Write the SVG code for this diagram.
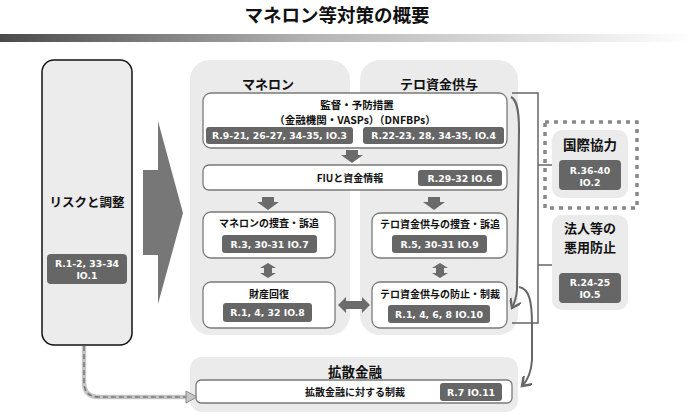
<svg xmlns="http://www.w3.org/2000/svg" width="696" height="415" viewBox="0 0 696 415">
<defs>
<linearGradient id="bar" x1="0" y1="0" x2="1" y2="0">
<stop offset="0" stop-color="#4a4a4a"/>
<stop offset="0.45" stop-color="#b5b5b5"/>
<stop offset="1" stop-color="#ffffff"/>
</linearGradient>
<marker id="open" markerUnits="userSpaceOnUse" markerWidth="12" markerHeight="12" refX="8" refY="5" orient="auto" viewBox="0 0 10 10">
<path d="M1,0 L8,5 L1,10" fill="none" stroke="#666" stroke-width="2"/>
</marker>
</defs>
<style>
.jp{font-family:"Noto Sans CJK JP","Noto Sans",sans-serif;font-weight:bold;fill:#111;text-anchor:middle}
.r{font-family:"DejaVu Sans","Noto Sans",sans-serif;font-weight:bold;fill:#fff;text-anchor:middle;font-size:9.3px}
.panel{fill:#ebebeb}
.box{fill:#fff;stroke:#7a7a7a;stroke-width:1.3}
.rb{fill:#666}
.arr{fill:#6b6b6b}
.ln{fill:none;stroke:#666;stroke-width:2}
</style>
<g id="title">
<text class="jp" x="337" y="22" font-size="18.5">マネロン等対策の概要</text>
<rect x="0" y="34" width="696" height="8" fill="url(#bar)"/>
</g>
<g id="risk">
<rect x="42" y="60" width="90" height="285" rx="12" fill="#ececec" stroke="#111" stroke-width="1.5"/>
<text class="jp" x="87" y="207" font-size="12.5">リスクと調整</text>
<rect class="rb" x="47" y="254" width="80" height="30" rx="4"/>
<text class="r" x="87" y="267">R.1-2, 33-34</text>
<text class="r" x="87" y="279">IO.1</text>
</g>
<g id="big-arrow">
<polygon points="143,170 158,170 158,121 183,213 158,304 158,255 143,255" fill="#777"/>
</g>
<g id="panel-ml">
<rect class="panel" x="190" y="60" width="160" height="275" rx="20"/>
<text class="jp" x="268" y="89" font-size="13">マネロン</text>
</g>
<g id="panel-tf">
<rect class="panel" x="360" y="60" width="158" height="275" rx="20"/>
<text class="jp" x="439" y="89" font-size="13">テロ資金供与</text>
</g>
<g id="supervision">
<rect class="box" x="203" y="93" width="304" height="55" rx="8"/>
<text class="jp" x="357" y="109" font-size="10.5">監督・予防措置</text>
<text class="jp" x="355" y="124" font-size="10.5">（金融機関・VASPs）（DNFBPs）</text>
<rect class="rb" x="206" y="127" width="147" height="17" rx="3"/>
<text class="r" x="279.5" y="139">R.9-21, 26-27, 34-35, IO.3</text>
<rect class="rb" x="363" y="127" width="141" height="17" rx="3"/>
<text class="r" x="433.5" y="139">R.22-23, 28, 34-35, IO.4</text>
</g>
<g id="fiu">
<rect class="box" x="203" y="165" width="304" height="25" rx="6"/>
<text class="jp" x="350" y="181.5" font-size="10">FIUと資金情報</text>
<rect class="rb" x="418" y="170" width="84" height="16" rx="3"/>
<text class="r" x="460" y="181.5">R.29-32 IO.6</text>
</g>
<g id="ml-invest">
<rect class="box" x="203" y="212" width="132" height="46" rx="8"/>
<text class="jp" x="269" y="227" font-size="10">マネロンの捜査・訴追</text>
<rect class="rb" x="222" y="235" width="95" height="18" rx="3"/>
<text class="r" x="269.5" y="247.5">R.3, 30-31 IO.7</text>
</g>
<g id="asset">
<rect class="box" x="203" y="282" width="132" height="46" rx="8"/>
<text class="jp" x="269" y="298" font-size="10">財産回復</text>
<rect class="rb" x="223" y="303" width="89" height="19" rx="3"/>
<text class="r" x="267.5" y="316">R.1, 4, 32 IO.8</text>
</g>
<g id="tf-invest">
<rect class="box" x="372" y="213" width="135" height="45" rx="8"/>
<text class="jp" x="440" y="228" font-size="10">テロ資金供与の捜査・訴追</text>
<rect class="rb" x="392" y="235" width="95" height="18" rx="3"/>
<text class="r" x="439.5" y="247.5">R.5, 30-31 IO.9</text>
</g>
<g id="tf-prevent">
<rect class="box" x="372" y="282" width="135" height="46" rx="8"/>
<text class="jp" x="440" y="298" font-size="10">テロ資金供与の防止・制裁</text>
<rect class="rb" x="388" y="305" width="102" height="18" rx="3"/>
<text class="r" x="439" y="317.5">R.1, 4, 6, 8 IO.10</text>
</g>
<g id="pf">
<rect class="panel" x="190" y="357" width="328" height="55" rx="12"/>
<text class="jp" x="355" y="377" font-size="13.5">拡散金融</text>
<rect class="box" x="196" y="380" width="316" height="23" rx="5"/>
<text class="jp" x="355" y="395.5" font-size="10">拡散金融に対する制裁</text>
<rect class="rb" x="440" y="383" width="62" height="18" rx="3"/>
<text class="r" x="471" y="395.5">R.7 IO.11</text>
</g>
<g id="intl">
<rect x="545" y="122" width="92" height="86" fill="none" stroke="#888" stroke-width="3.5" stroke-dasharray="4,5"/>
<rect class="panel" x="552" y="130" width="76" height="68" rx="10"/>
<text class="jp" x="590" y="150" font-size="13.5">国際協力</text>
<rect class="rb" x="559" y="160" width="62" height="30" rx="4"/>
<text class="r" x="590" y="174">R.36-40</text>
<text class="r" x="590" y="186">IO.2</text>
</g>
<g id="legal">
<rect class="panel" x="552" y="215" width="76" height="95" rx="10"/>
<text class="jp" x="590" y="233" font-size="13">法人等の</text>
<text class="jp" x="590" y="252" font-size="13">悪用防止</text>
<rect class="rb" x="559" y="273" width="62" height="30" rx="4"/>
<text class="r" x="590" y="286">R.24-25</text>
<text class="r" x="590" y="298">IO.5</text>
</g>
<g id="connectors">
<path class="arr" d="M346,150 h12 v5 h5 l-11,8 l-11,-8 h5 z"/>
<path class="arr" d="M262,197 h12 v5 h5 l-11,8 l-11,-8 h5 z"/>
<path class="arr" d="M428,197 h12 v5 h5 l-11,8 l-11,-8 h5 z"/>
<path class="arr" d="M268,263 l8,5 h-4 v5 h4 l-8,5 l-8,-5 h4 v-5 h-4 z"/>
<path class="arr" d="M440,263 l8,5 h-4 v5 h4 l-8,5 l-8,-5 h4 v-5 h-4 z"/>
<path class="arr" d="M338,305 l8,-8 v4 h16 v-4 l8,8 l-8,8 v-4 h-16 v4 z"/>
<polyline points="512,93 538,93 538,323 512,323" fill="none" stroke="#666" stroke-width="1.5"/>
<line x1="538" y1="165" x2="552" y2="165" stroke="#666" stroke-width="1.5"/>
<line x1="538" y1="265" x2="552" y2="265" stroke="#666" stroke-width="1.5"/>
<path class="ln" d="M511,97 C517,100 519,110 519,130 L517,290 Q516,300 512,308" marker-end="url(#open)"/>
<path class="ln" d="M519,287 C529,289 532,300 532,325 L532,360 Q531,377 522,386" marker-end="url(#open)"/>
<path d="M84,346 V382 Q84,397 99,397 H188" fill="none" stroke="#c6c6c6" stroke-width="4.5"/>
<path d="M84,346 V382 Q84,397 99,397 H188" fill="none" stroke="#7a7a7a" stroke-width="1.6" stroke-dasharray="5,3"/>
<polygon points="186,391 197,397 186,403" fill="#c6c6c6" stroke="#8a8a8a" stroke-width="1"/>
</g>
</svg>
